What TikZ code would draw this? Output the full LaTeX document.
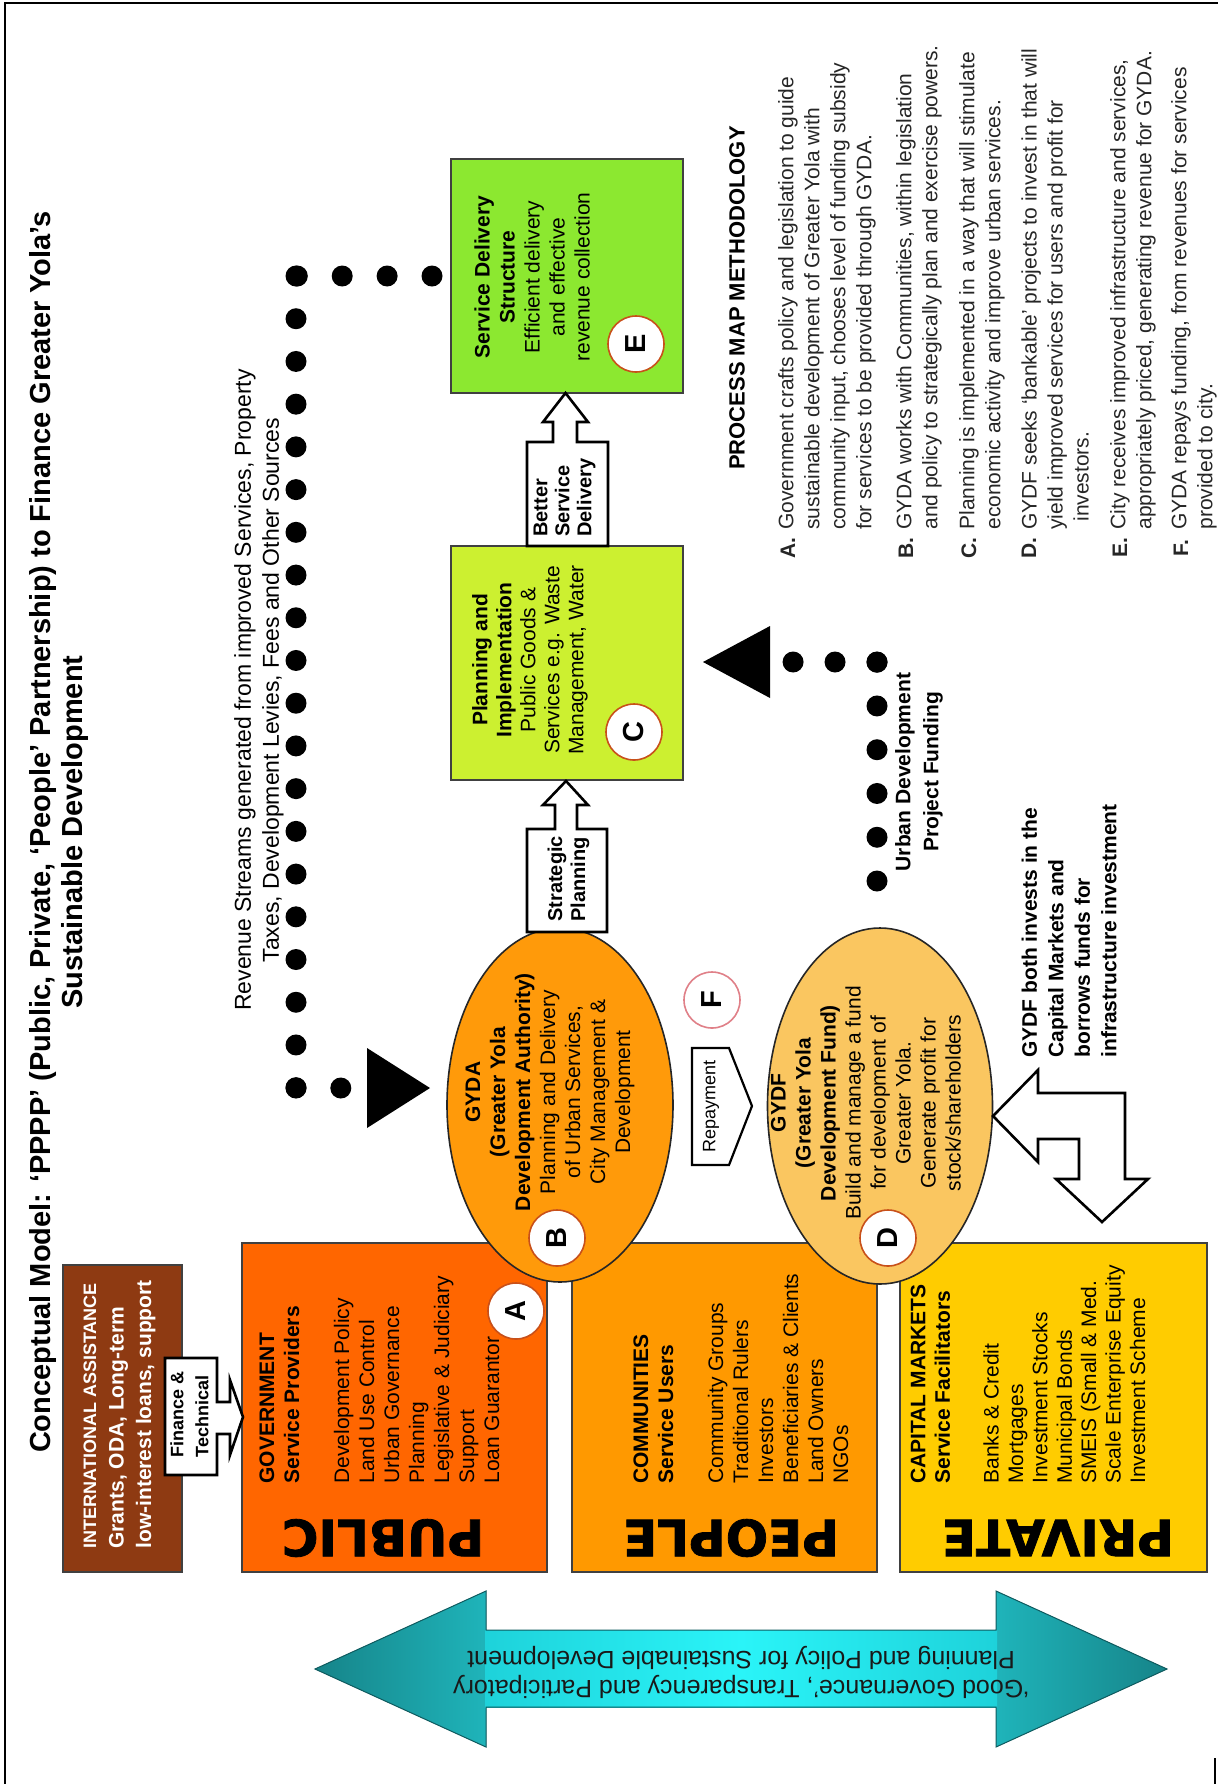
\documentclass[tikz,border=0pt]{standalone}
\usepackage{fontspec}
\setmainfont{Liberation Sans}
\newfontfamily\heavyfont{DejaVu Sans}[BoldFeatures={FakeBold=1.6}]
\usetikzlibrary{shapes.geometric}

\definecolor{intlbrown}{HTML}{8E3A12}
\definecolor{publicorange}{HTML}{FF6600}
\definecolor{peopleorange}{HTML}{FF9900}
\definecolor{privateyellow}{HTML}{FFCC00}
\definecolor{gydaorange}{HTML}{FF9A0A}
\definecolor{gydflight}{HTML}{FAC660}
\definecolor{planlime}{HTML}{CCF030}
\definecolor{servgreen}{HTML}{8CE830}
\definecolor{tealdark}{HTML}{168489}
\definecolor{tealmid}{HTML}{1FB4BA}
\definecolor{tealshaft}{HTML}{1ED2DA}
\definecolor{tealbright}{HTML}{2AF4F8}
\definecolor{ringorange}{HTML}{C8501A}
\definecolor{ringpink}{HTML}{E08088}

\tikzset{
  vtext/.style={rotate=90, inner sep=0pt, align=center},
  bodyfont/.style={font=\fontsize{10.5}{12.5}\selectfont},
  panel/.style={draw=black!75, line width=0.9pt, inner sep=0pt},
  oval/.style={ellipse, draw=black!85, line width=0.8pt, inner sep=0pt},
  ring/.style={circle, draw=#1, line width=0.8pt, fill=white, minimum size=28pt,
    inner sep=0pt, rotate=90, font=\fontsize{14.5}{14.5}\selectfont\bfseries},
  blockarrow/.style={draw=black, line width=1.3pt, fill=white, line join=miter},
  dotrun/.style={line width=10.5pt, line cap=round, draw=black},
  bigword/.style={rotate=180, inner sep=0pt, font=\heavyfont\bfseries\fontsize{25}{25}\selectfont},
  listtext/.style={rotate=90, inner sep=0pt, align=left, anchor=west,
    text=black!85, font=\fontsize{10.5}{13}\selectfont},
  listlabel/.style={rotate=90, inner sep=0pt, text=black!85,
    font=\fontsize{10.5}{13}\selectfont\bfseries},
}

\begin{document}
\begin{tikzpicture}[x=0.5pt, y=-0.5pt]
\path[use as bounding box, fill=white] (0,0) rectangle (1218,1784);

% page frame
\draw[line width=1.1pt] (5,1784) -- (5,3) -- (1218,3);
\draw[line width=1.1pt] (1215,1758) -- (1215,1784);

% title
\node[vtext, font=\bfseries\fontsize{14.5}{16}\selectfont] (title) at (59,832)
  {Conceptual Model: ‘PPPP’ (Public, Private, ‘People’ Partnership) to Finance Greater Yola’s\\Sustainable Development};

% governance double arrow: heads darker, shaft bright
\fill[left color=tealdark, right color=tealmid] (315,1669) -- (486,1591) -- (486,1747) -- cycle;
\fill[left color=tealmid, right color=tealdark] (996,1591) -- (1167,1669) -- (996,1747) -- cycle;
\fill[left color=tealshaft, right color=tealshaft, middle color=tealbright] (485,1630) rectangle (997,1707);
\draw[draw=tealdark!70!black, line width=0.5pt, line join=miter]
  (315,1669) -- (486,1591) -- (486,1630) -- (996,1630) -- (996,1591) -- (1167,1669)
  -- (996,1747) -- (996,1707) -- (486,1707) -- (486,1747) -- cycle;
\node[rotate=180, inner sep=0pt, align=center, text=black!90, font=\fontsize{12.5}{14.5}\selectfont] (goodgov) at (741,1672)
  {‘Good Governance’, Transparency and Participatory\\Planning and Policy for Sustainable Development};

% sector panels
\node[panel, fill=intlbrown, minimum width=59.5pt, minimum height=153.5pt] (intl) at (122.5,1418.5) {};
\node[panel, fill=publicorange, minimum width=152.5pt, minimum height=164.5pt] (public) at (394.5,1407.5) {};
\node[panel, fill=peopleorange, minimum width=152.5pt, minimum height=164.5pt] (people) at (724.5,1407.5) {};
\node[panel, fill=privateyellow, minimum width=153.5pt, minimum height=164.5pt] (private) at (1053.5,1407.5) {};

\node[vtext, align=left, anchor=west, text=white, font=\bfseries\fontsize{10.5}{13.75}\selectfont] (intltext) at (119.5,1549)
  {{\fontsize{9}{13.75}\selectfont INTERNATIONAL ASSISTANCE}\\Grants, ODA, Long-term\\low-interest loans, support};

\node[vtext, align=left, anchor=west, font=\fontsize{10.5}{12.5}\selectfont] (govtext) at (379.5,1484)
  {\textbf{GOVERNMENT}\\\textbf{Service Providers}\\[12.5pt]Development Policy\\Land Use Control\\Urban Governance\\Planning\\Legislative \& Judiciary\\Support\\Loan Guarantor};
\node[vtext, align=left, anchor=west, font=\fontsize{10.5}{12.5}\selectfont] (commtext) at (741,1484)
  {\textbf{COMMUNITIES}\\\textbf{Service Users}\\[12.5pt]Community Groups\\Traditional Rulers\\Investors\\Beneficiaries \& Clients\\Land Owners\\NGOs};
\node[vtext, align=left, anchor=west, font=\fontsize{10.5}{12.2}\selectfont] (captext) at (1028,1484)
  {\textbf{CAPITAL MARKETS}\\\textbf{Service Facilitators}\\[12.2pt]Banks \& Credit\\Mortgages\\Investment Stocks\\Municipal Bonds\\SMEIS (Small \& Med.\\Scale Enterprise Equity\\Investment Scheme};

\node[bigword] (publicword) at (383,1538) {PUBLIC};
\node[bigword] (peopleword) at (731,1538) {PEOPLE};
\node[bigword] (privateword) at (1058,1538) {PRIVATE};

% finance & technical arrow
\draw[blockarrow] (165,1358) -- (217,1358) -- (217,1402) -- (230,1402) -- (230,1380) -- (243,1417)
  -- (230,1455) -- (230,1434) -- (217,1434) -- (217,1475) -- (165,1475) -- cycle;
\node[vtext, align=left, anchor=west, font=\bfseries\fontsize{9}{12.5}\selectfont] (fintext) at (189.5,1458) {Finance \&\\Technical};

% service boxes
\node[panel, fill=servgreen, minimum width=116pt, minimum height=117pt] (serv) at (567,276) {};
\node[panel, fill=planlime, minimum width=116pt, minimum height=117pt] (plan) at (567,663) {};
\node[vtext, bodyfont] (servtext) at (532,277)
  {\textbf{Service Delivery}\\\textbf{Structure}\\Efficient delivery\\and effective\\revenue collection};
\node[vtext, font=\fontsize{10.5}{12}\selectfont] (plantext) at (530,660)
  {\textbf{Planning and}\\\textbf{Implementation}\\Public Goods \&\\Services e.g. Waste\\Management, Water};

% authority and fund
\node[oval, fill=gydaorange, minimum width=113pt, minimum height=177pt] (gyda) at (560,1105) {};
\node[oval, fill=gydflight, minimum width=112.5pt, minimum height=178pt] (gydf) at (880,1106) {};
\node[vtext, bodyfont] (gydatext) at (550,1092)
  {\textbf{GYDA}\\\textbf{(Greater Yola}\\\textbf{Development Authority)}\\Planning and Delivery\\of Urban Services,\\City Management \&\\Development};
\node[vtext, bodyfont] (gydftext) at (866,1103)
  {\textbf{GYDF}\\\textbf{(Greater Yola}\\\textbf{Development Fund)}\\Build and manage a fund\\for development of\\Greater Yola.\\Generate profit for\\stock/shareholders};

% block arrows between stages
\draw[blockarrow] (527,546) -- (527,442) -- (553,442) -- (553,422) -- (543,422) -- (565.5,393) -- (588,422)
  -- (577,422) -- (577,442) -- (608,442) -- (608,546) -- cycle;
\node[vtext, align=left, anchor=west, font=\bfseries\fontsize{10}{11}\selectfont] (bsdtext) at (564.5,537) {Better\\Service\\Delivery};
\draw[blockarrow] (527,932) -- (527,829) -- (555,829) -- (555,805) -- (543,805) -- (566,781) -- (588,805)
  -- (577,805) -- (577,829) -- (607,829) -- (607,932) -- cycle;
\node[vtext, align=left, anchor=west, font=\bfseries\fontsize{10}{11.5}\selectfont] (sptext) at (568.5,922) {Strategic\\Planning};

\draw[blockarrow, line width=1.1pt] (692,1048) -- (729,1048) -- (752,1106) -- (729,1165) -- (692,1165) -- cycle;
\node[vtext, font=\fontsize{9}{9}\selectfont] (reptext) at (711,1106) {Repayment};

\draw[blockarrow] (993,1116) -- (1038,1070) -- (1038,1093) -- (1125,1093) -- (1125,1179) -- (1148,1179)
  -- (1102,1222) -- (1056,1179) -- (1079,1179) -- (1079,1139) -- (1038,1139) -- (1038,1162) -- cycle;
\node[vtext, align=left, anchor=west, font=\bfseries\fontsize{10.5}{13.25}\selectfont] (captmk) at (1069,1058)
  {GYDF both invests in the\\Capital Markets and\\borrows funds for\\infrastructure investment};

% revenue stream dotted connector
\coordinate (revstart) at (432,276);
\coordinate (revcorner) at (296,276);
\coordinate (revbottom) at (296,1088);
\coordinate (revend) at (341,1088);
\draw[dotrun, dash pattern=on 0pt off 22.45pt] (revstart) -- (revcorner);
\draw[dotrun, dash pattern=on 0pt off 21.36pt] (revcorner) -- (revbottom);
\draw[dotrun, dash pattern=on 0pt off 22.4pt] (revbottom) -- (revend);
\fill (367,1048) -- (430,1088) -- (367,1128) -- cycle;
\node[vtext, font=\fontsize{11.5}{14}\selectfont] (revenue) at (259,690)
  {Revenue Streams generated from improved Services, Property\\Taxes, Development Levies, Fees and Other Sources};

% project funding dotted connector
\coordinate (udfbottom) at (877,881);
\coordinate (udfcorner) at (877,662);
\coordinate (udfend) at (793,662);
\draw[dotrun, dash pattern=on 0pt off 21.88pt] (udfbottom) -- (udfcorner);
\draw[dotrun, dash pattern=on 0pt off 20.98pt] (udfcorner) -- (udfend);
\fill (770,626) -- (703,662) -- (770,698) -- cycle;
\node[vtext, font=\bfseries\fontsize{10.5}{14}\selectfont] (udftext) at (919,772) {Urban Development\\Project Funding};

% stage markers
\node[ring=ringorange] (markA) at (516,1311) {A};
\node[ring=ringorange] (markB) at (557,1238) {B};
\node[ring=ringorange] (markC) at (634,732) {C};
\node[ring=ringorange] (markD) at (888,1238) {D};
\node[ring=ringorange] (markE) at (636,344) {E};
\node[ring=ringpink] (markF) at (712,1000) {F};

% methodology list
\node[vtext, font=\bfseries\fontsize{11}{13}\selectfont] (pmm) at (737,298) {PROCESS MAP METHODOLOGY};

\node[listlabel] (labA) at (788,548) {A.};
\node[listtext] (itemA) at (827,530) {Government crafts policy and legislation to guide\\sustainable development of Greater Yola with\\community input, chooses level of funding subsidy\\for services to be provided through GYDA.};
\node[listlabel] (labB) at (906,548) {B.};
\node[listtext] (itemB) at (919,530) {GYDA works with Communities, within legislation\\and policy to strategically plan and exercise powers.};
\node[listlabel] (labC) at (969,548) {C.};
\node[listtext] (itemC) at (982,530) {Planning is implemented in a way that will stimulate\\economic activity and improve urban services.};
\node[listlabel] (labD) at (1029,548) {D.};
\node[listtext] (itemD) at (1055,530) {GYDF seeks ‘bankable’ projects to invest in that will\\yield improved services for users and profit for\\\hspace*{4pt}investors.};
\node[listlabel] (labE) at (1120,548) {E.};
\node[listtext] (itemE) at (1133,530) {City receives improved infrastructure and services,\\appropriately priced, generating revenue for GYDA.};
\node[listlabel] (labF) at (1181,548) {F.};
\node[listtext] (itemF) at (1194,530) {GYDA repays funding, from revenues for services\\provided to city.};

\end{tikzpicture}
\end{document}
